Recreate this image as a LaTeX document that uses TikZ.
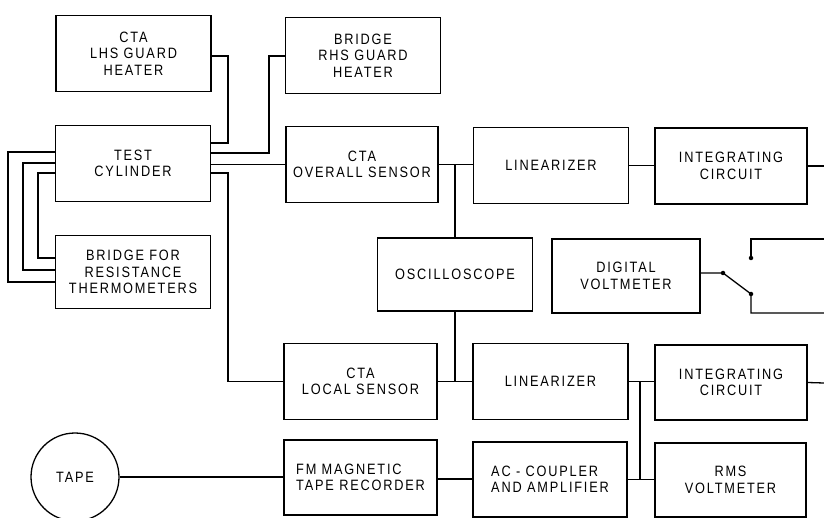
\documentclass[tikz,border=0pt]{standalone}
\usepackage{fontspec}
\newfontfamily\lblfont{Liberation Sans}[FakeStretch=0.85,LetterSpace=12]
\usetikzlibrary{positioning,calc}

\begin{document}
\begin{tikzpicture}[
  x=1pt, y=-1pt,
  font=\lblfont\fontsize{15}{16.5}\selectfont,
  blk/.style={draw, line width=1.3pt, minimum width=155pt, minimum height=76pt, align=center, inner sep=2pt},
  lblk/.style={blk, align=left},
  tapeblk/.style={draw, circle, line width=1.3pt, minimum size=88pt, inner sep=0pt},
  wire/.style={line width=1.3pt},
  dot/.style={circle, fill, inner sep=0pt, minimum size=4.5pt},
]
\useasboundingbox (0,0) rectangle (824,518);

% left column
\node[blk] (lhs) at (133.5,53.5) {CTA\\LHS GUARD\\HEATER};
\node[blk] (test) at (133,163.5) {TEST\\CYLINDER};
\node[blk, minimum height=73pt] (brt) at (133,272) {BRIDGE FOR\\RESISTANCE\\THERMOMETERS};
\node[blk] (rhs) at (363,55.5) {BRIDGE\\RHS GUARD\\HEATER};

% overall sensor row
\node[blk, minimum width=152pt] (ctao) at (362,164.5) {CTA\\OVERALL SENSOR};
\node[blk] (lin1) at (551,165.5) {LINEARIZER};
\node[blk, minimum width=152pt] (int1) at (731,166) {INTEGRATING\\CIRCUIT};

% middle row
\node[blk, minimum height=73pt] (osc) at (455,274.5) {OSCILLOSCOPE};
\node[blk, minimum width=148pt, minimum height=74pt] (dvm) at (626,276) {DIGITAL\\VOLTMETER};

% local sensor row
\node[blk, minimum width=153pt] (ctal) at (360.5,381.5) {CTA\\LOCAL SENSOR};
\node[blk] (lin2) at (550.5,381.5) {LINEARIZER};
\node[blk, minimum width=152pt, minimum height=75pt] (int2) at (731,382.5) {INTEGRATING\\CIRCUIT};

% recording row
\node[tapeblk] (tape) at (75,477) {TAPE};
\node[lblk, minimum width=153pt, minimum height=75pt] (fm) at (360.5,477.5) {FM MAGNETIC\\TAPE RECORDER};
\node[lblk, minimum width=154pt, minimum height=75pt] (ac) at (550,479.5) {AC - COUPLER\\AND AMPLIFIER};
\node[blk, minimum width=151pt, minimum height=74pt] (rms) at (730.5,480) {RMS\\VOLTMETER};

% free ends and switch contacts
\coordinate (out1) at (824,166);
\coordinate (out2) at (824,383);
\coordinate (outa) at (824,239);
\coordinate (outb) at (824,313);
\coordinate (swp) at (723,273);
\coordinate (swa) at (751,258);
\coordinate (swb) at (751,294);

% heater and thermometer leads
\draw[wire] (test.east |- 0,143) -- (228,143) |- (lhs.east |- 0,56);
\draw[wire] (test.east |- 0,153) -| (269,56) -- (rhs.west |- 0,56);
\draw[wire] (test.east |- ctao.west) -- (ctao.west);
\draw[wire] (test.east |- 0,173) -- (228,173) |- (ctal.west);
\draw[wire] (test.west |- 0,152) -| (8,282) -- (brt.west |- 0,282);
\draw[wire] (test.west |- 0,163) -| (23,270) -- (brt.west |- 0,270);
\draw[wire] (test.west |- 0,173) -| (38,258) -- (brt.west |- 0,258);

% signal chain
\draw[wire] (ctao.east) -- (lin1.west |- ctao.east);
\draw[wire] (osc.north) -- (osc.north |- ctao.east);
\draw[wire] (lin1.east) -- (int1.west |- lin1.east);
\draw[wire] (int1.east) -- (out1);
\draw[wire] (osc.south) -- (osc.south |- ctal.east);
\draw[wire] (ctal.east) -- (lin2.west |- ctal.east);
\draw[wire] (lin2.east) -- (int2.west |- lin2.east);
\draw[wire] (int2.east) -- (out2);
\draw[wire] (640,381.5) -- (640,480);
\draw[wire] (ac.east) -- (rms.west |- ac.east);
\draw[wire] (tape.east) -- (fm.west |- tape.east);
\draw[wire] (fm.east |- 0,479) -- (ac.west |- 0,479);

% selector switch
\draw[wire] (dvm.east |- swp) -- (swp) -- (swb) -- (swb |- outb) -- (outb);
\draw[wire] (swa) -- (swa |- outa) -- (outa);
\node[dot] at (swp) {};
\node[dot] at (swa) {};
\node[dot] at (swb) {};
\end{tikzpicture}
\end{document}
